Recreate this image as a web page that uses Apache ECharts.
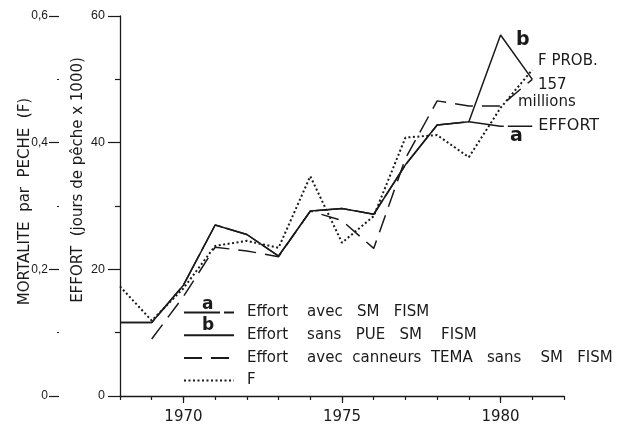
<!DOCTYPE html>
<html><head><meta charset="utf-8">
<script src="https://cdn.jsdelivr.net/npm/echarts@6/dist/echarts.min.js"></script>
<style>html,body{margin:0;padding:0;background:#fff}#c{width:618px;height:425px}</style>
</head><body><div id="c"></div>
<script>
// ---- data ----
const years = [1968,1969,1970,1971,1972,1973,1974,1975,1976,1977,1978,1979,1980,1981];
// a : Effort avec SM FISM (thousand fishing days)
const effortAvecSM = [11.6,11.6,17.5,27.0,25.5,22.1,29.2,29.6,28.7,36.5,42.8,43.3,42.6,42.6];
// b : Effort sans PUE SM FISM
const effortSansPUE = [11.6,11.6,17.5,27.0,25.5,22.1,29.2,29.6,28.7,36.5,42.8,43.3,57.0,50.0];
// Effort avec canneurs TEMA sans SM FISM
const effortCanneurs = [null,9.0,15.7,23.5,22.9,22.0,29.2,27.7,23.3,37.5,46.6,45.8,45.8,50.0];
// F : fishing mortality
const mortaliteF = [0.173,0.119,0.170,0.237,0.245,0.234,0.347,0.242,0.284,0.408,0.412,0.377,0.455,0.515];
const yearLabels = [1970,1975,1980];
const effortTicks = [0,20,40,60];
const fTicks = [0,0.2,0.4,0.6];

const seriesNames = [
  'Effort    avec   SM   FISM',
  'Effort    sans   PUE   SM    FISM',
  'Effort    avec  canneurs  TEMA   sans    SM   FISM',
  'F'
];

const ink = '#1a1a1a';
const font = 'DejaVu Sans';
const tickFont = 'Liberation Sans';
const pairs = arr => years.map((y,i)=>[y, arr[i]]);

const chart = echarts.init(document.getElementById('c'), null, {renderer:'canvas'});
chart.setOption({
  backgroundColor:'#fff',
  animation:false,
  textStyle:{fontFamily:font, color:ink},
  grid:{left:120, right:54, top:16, bottom:28},
  xAxis:[{
    type:'value', min:1968, max:1982, interval:1,
    axisLine:{lineStyle:{color:ink, width:1.3}},
    axisTick:{length:4, lineStyle:{color:ink, width:1.2}},
    axisLabel:{show:false},
    splitLine:{show:false}
  },{
    type:'value', min:1968, max:1982, position:'bottom',
    axisLine:{show:false},
    axisTick:{show:true, customValues:yearLabels, length:7, lineStyle:{color:ink, width:1.2}},
    axisLabel:{customValues:yearLabels, margin:14, fontSize:15, color:ink, fontFamily:font,
      formatter:v => String(v)},
    splitLine:{show:false}
  }],
  yAxis:[{
    type:'value', min:0, max:60, interval:20, position:'left',
    axisLine:{show:true, lineStyle:{color:ink, width:1.3}},
    axisTick:{show:true, length:12, customValues:effortTicks, lineStyle:{color:ink, width:1.2}},
    minorTick:{show:true, splitNumber:2, length:5, lineStyle:{color:ink, width:1.2}},
    axisLabel:{margin:15, fontSize:12.5, color:ink, fontFamily:tickFont, customValues:effortTicks},
    splitLine:{show:false}, minorSplitLine:{show:false},
    name:'EFFORT  (jours de pêche x 1000)', nameLocation:'middle', nameRotate:90, nameGap:34,
    nameMoveOverlap:false,
    nameTextStyle:{fontSize:15, color:ink, fontFamily:font, padding:[0,0,0,52]}
  },{
    type:'value', min:0, max:0.6, interval:0.2, position:'left', offset:61,
    axisLine:{show:false},
    axisTick:{show:true, length:10, customValues:fTicks, lineStyle:{color:ink, width:1.2}},
    minorTick:{show:true, splitNumber:2, length:2, lineStyle:{color:ink, width:1.2}},
    axisLabel:{margin:11, fontSize:12, color:ink, fontFamily:tickFont, customValues:fTicks,
      formatter:v => v===0 ? '0' : v.toFixed(1).replace('.',',')},
    splitLine:{show:false}, minorSplitLine:{show:false},
    name:'MORTALITE  par  PECHE  (F)', nameLocation:'middle', nameRotate:90, nameGap:26,
    nameMoveOverlap:false,
    nameTextStyle:{fontSize:15, color:ink, fontFamily:font, padding:[0,0,0,9]}
  }],
  legend:{
    data:seriesNames, orient:'vertical', left:183, top:305, padding:0,
    itemWidth:50, itemHeight:14, itemGap:7.7, selectedMode:false,
    itemStyle:{opacity:0},
    textStyle:{fontSize:15, color:ink, fontFamily:font, padding:[0,0,0,8]}
  },
  series:[{
    name:seriesNames[0], type:'line', data:pairs(effortAvecSM), symbol:'none', z:2,
    lineStyle:{color:ink, width:1.5, type:[36,4]}, itemStyle:{color:ink},
    endLabel:{show:true, formatter:'EFFORT', distance:6, fontSize:16, color:ink, fontFamily:font}
  },{
    name:seriesNames[1], type:'line', data:pairs(effortSansPUE), symbol:'none', z:3,
    lineStyle:{color:ink, width:1.5}, itemStyle:{color:ink}
  },{
    name:seriesNames[2], type:'line', data:pairs(effortCanneurs), symbol:'none', z:2,
    lineStyle:{color:ink, width:1.5, type:[18,9]}, itemStyle:{color:ink}
  },{
    name:seriesNames[3], type:'line', yAxisIndex:1, data:pairs(mortaliteF), symbol:'none', z:4,
    lineStyle:{color:ink, width:2, type:[2,2.5]}, itemStyle:{color:ink}
  }],
  graphic:[
    {type:'text', left:516, top:31, style:{text:'b', font:'bold 19px "DejaVu Sans"', fill:ink}},
    {type:'text', left:538, top:54, style:{text:'F PROB.', font:'15px "DejaVu Sans"', fill:ink}},
    {type:'text', left:538, top:78, style:{text:'157', font:'15px "DejaVu Sans"', fill:ink}},
    {type:'text', left:518, top:95, style:{text:'millions', font:'15px "DejaVu Sans"', fill:ink}},
    {type:'text', left:510, top:127, style:{text:'a', font:'bold 19px "DejaVu Sans"', fill:ink}},
    {type:'text', left:202, top:296, style:{text:'a', font:'bold 17px "DejaVu Sans"', fill:ink}},
    {type:'text', left:202, top:317, style:{text:'b', font:'bold 17px "DejaVu Sans"', fill:ink}}
  ]
});
</script></body></html>
